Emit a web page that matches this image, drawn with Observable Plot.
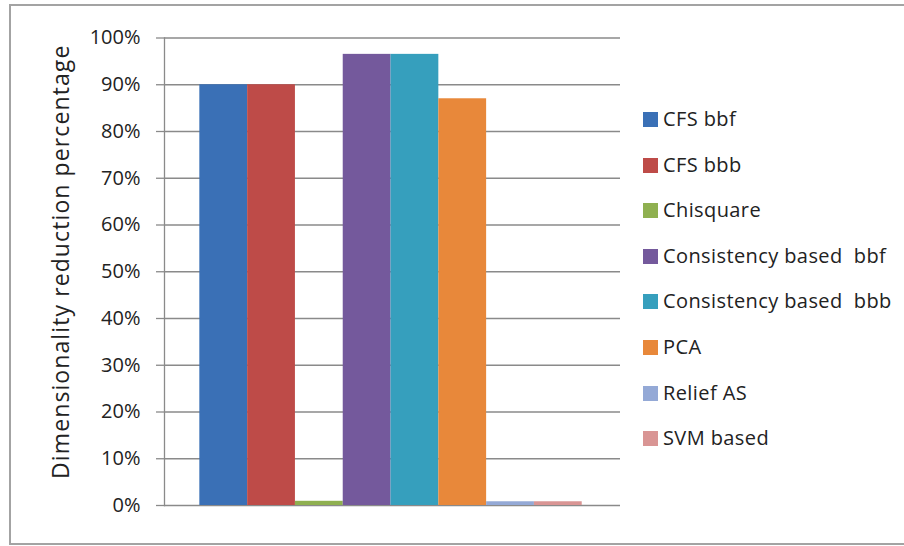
<!DOCTYPE html>
<html>
<head>
<meta charset="utf-8">
<script src="https://cdn.jsdelivr.net/npm/d3@7"></script>
<script src="https://cdn.jsdelivr.net/npm/@observablehq/plot@0.6"></script>
<style>
  html, body { margin: 0; padding: 0; background: #fff; }
  #chart { position: relative; width: 904px; height: 546px; overflow: hidden; font-family: "Open Sans", sans-serif; }
  #frame { position: absolute; left: 9px; top: 4px; width: 920px; height: 541px; border: 2px solid #a3a3a3; box-sizing: border-box; }
  #plot { position: absolute; left: 0; top: 0; }
  #legend { position: absolute; left: 643px; top: 0; }
  .item { position: absolute; left: 0; white-space: pre; font-size: 20px; letter-spacing: 0.4px; color: #222; line-height: 1; }
  .sw { position: absolute; left: 0; width: 15px; height: 15px; }
  .lbl { position: absolute; left: 20px; }
</style>
</head>
<body>
<div id="chart">
  <div id="frame"></div>
  <div id="plot"></div>
  <div id="legend"></div>
</div>
<script>
// Feature-selection methods and the share of dimensions each one removed (%)
const methods = ["CFS bbf", "CFS bbb", "Chisquare", "Consistency based  bbf", "Consistency based  bbb", "PCA", "Relief AS", "SVM based"];
const reduction = [90, 90, 0.9, 96.5, 96.5, 87, 0.8, 0.8];
const colors = ["#3a70b6", "#be4b48", "#8fb050", "#74599c", "#369fbd", "#e8883a", "#94a9d6", "#d99594"];
const yTicks = [0, 10, 20, 30, 40, 50, 60, 70, 80, 90, 100];
const yTitle = "Dimensionality reduction percentage";

const data = methods.map((m, i) => ({method: m, value: reduction[i]}));

const chart = Plot.plot({
  width: 904,
  height: 546,
  marginLeft: 164,
  marginRight: 284,
  marginTop: 37.5,
  marginBottom: 41,
  style: {fontFamily: "'Open Sans', sans-serif", fontSize: "20px", color: "#222", background: "transparent"},
  x: {domain: methods, paddingInner: 0, paddingOuter: 0.77, align: 0.48, round: false, axis: null},
  y: {domain: [0, 100]},
  color: {domain: methods, range: colors},
  marks: [
    Plot.gridY(yTicks, {stroke: "#8a8a8a", strokeOpacity: 1, strokeWidth: 1.3}),
    Plot.axisY(yTicks, {tickSize: 8, tickPadding: 16, tickFormat: d => d + "%", stroke: "#8a8a8a", strokeWidth: 1.3, label: null, fontSize: 20}),
    Plot.frame({anchor: "left", stroke: "#8a8a8a", strokeWidth: 1.3}),
    Plot.barY(data, {x: "method", y: "value", fill: "method"}),
    Plot.text([yTitle], {frameAnchor: "left", rotate: -90, dx: -103, dy: -10, fontSize: 23, fill: "#222", textAnchor: "middle", lineAnchor: "middle"})
  ]
});
document.getElementById("plot").appendChild(chart);
chart.querySelectorAll("text").forEach(t => {
  if (t.textContent === yTitle) t.style.letterSpacing = "1.1px";
});

// Legend: one swatch and label per method, stacked on the right
const legend = document.getElementById("legend");
const rowTop = 109, rowStep = 45.6;
methods.forEach((m, i) => {
  const item = document.createElement("div");
  item.className = "item";
  item.style.top = (rowTop + i * rowStep) + "px";
  const sw = document.createElement("div");
  sw.className = "sw";
  sw.style.background = colors[i];
  sw.style.top = "3px";
  const lbl = document.createElement("div");
  lbl.className = "lbl";
  lbl.textContent = m;
  item.appendChild(sw);
  item.appendChild(lbl);
  legend.appendChild(item);
});
</script>
</body>
</html>
